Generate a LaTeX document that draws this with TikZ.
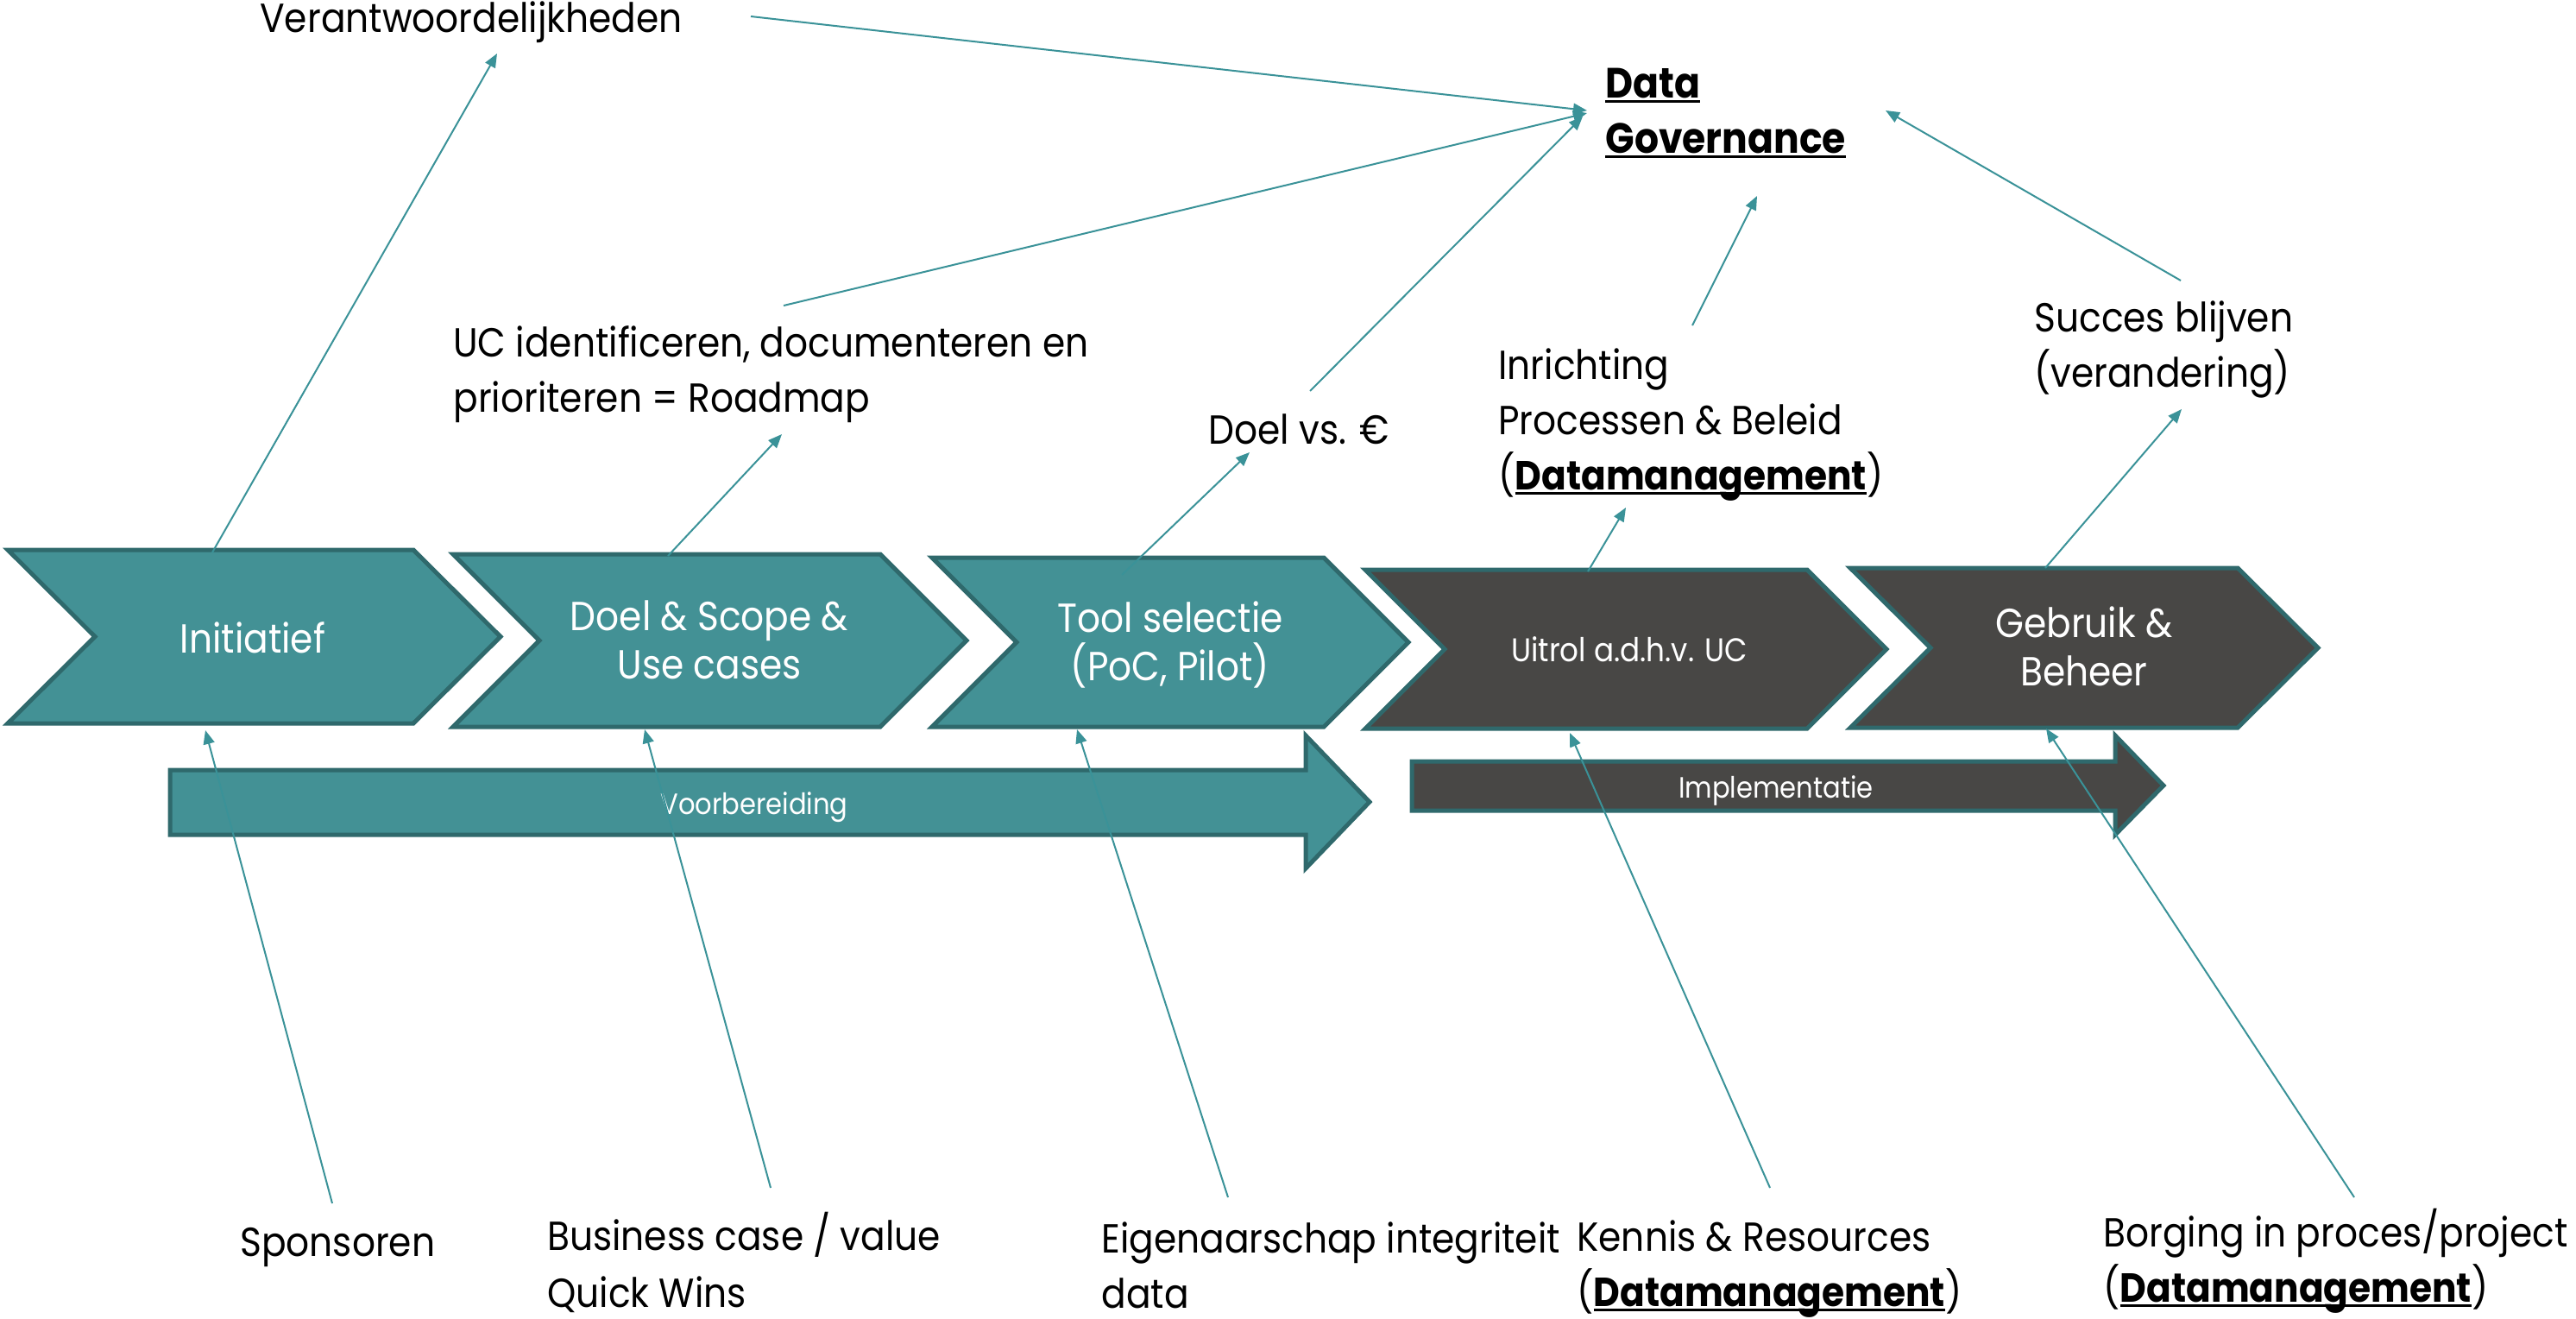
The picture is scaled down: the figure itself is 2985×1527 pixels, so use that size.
\documentclass[tikz,border=0pt]{standalone}
\usepackage{fontspec}
\setmainfont{Poppins}[FakeStretch=0.9]
\usetikzlibrary{arrows.meta}

\definecolor{tealfill}{RGB}{67,145,149}
\definecolor{tealline}{RGB}{47,105,108}
\definecolor{darkfill}{RGB}{72,71,69}
\definecolor{connline}{RGB}{58,146,152}

\newsavebox{\ulbox}
\newcommand{\ulin}[1]{\sbox{\ulbox}{#1}\rlap{\rule[-3.2pt]{\wd\ulbox}{1.5pt}}\usebox{\ulbox}}

\tikzset{
  chevron/.style={draw=tealline, line width=2.5pt, line join=miter},
  steptxt/.style={text=white, align=center, anchor=base, inner sep=0pt, font=\fontsize{23.5}{28}\selectfont},
  phasetxt/.style={text=white, anchor=base, inner sep=0pt, font=\fontsize{17}{20}\selectfont},
  lbl/.style={align=left, anchor=base west, inner sep=0pt, font=\fontsize{23.5}{32}\selectfont},
  conn/.style={draw=connline, line width=1pt, -{Triangle[length=8pt,width=6.5pt]}}
}

\begin{document}
\begin{tikzpicture}[x=0.5pt, y=-0.5pt]
  \useasboundingbox (0,0) rectangle (2985,1527);

  % fases onder de stappen
  \draw[chevron, fill=tealfill] (197,892) -- (1513,892) -- (1513,852) -- (1587,929)
    -- (1513,1006) -- (1513,967) -- (197,967) -- cycle;
  \draw[chevron, fill=darkfill] (1636,882) -- (2451,882) -- (2451,852) -- (2507,910)
    -- (2451,967) -- (2451,939) -- (1636,939) -- cycle;
  \node[phasetxt] (voorb) at (874,943) {Voorbereiding};
  \node[phasetxt] (implem) at (2058,924) {Implementatie};

  % stappen
  \foreach \xl/\xr/\yt/\yb/\dp/\kleur in {9/580/637/838/101/tealfill, 525/1120/642/842/100/tealfill,
      1080/1632/646/842/98/tealfill, 1582/2186/660/844/92/darkfill, 2144/2686/658/843/93/darkfill} {
    \draw[chevron, fill=\kleur] (\xl,\yt) -- ({\xr-\dp},\yt) -- (\xr,{(\yt+\yb)/2})
      -- ({\xr-\dp},\yb) -- (\xl,\yb) -- ({\xl+\dp},{(\yt+\yb)/2}) -- cycle;
  }
  \node[steptxt] (initiatief) at (293,756) {Initiatief};
  \node[steptxt] (doelscope) at (822,786) {Doel \& Scope \&\\Use cases};
  \node[steptxt] (toolsel) at (1356,788) {Tool selectie\\(PoC, Pilot)};
  \node[steptxt, font=\fontsize{19}{22}\selectfont] (uitrol) at (1888,766) {Uitrol a.d.h.v. UC};
  \node[steptxt] (gebruik) at (2415,794) {Gebruik \&\\Beheer};

  % teksten boven
  \node[lbl] (verant) at (301,37) {Verantwoordelijkheden};
  \node[lbl, font=\bfseries\fontsize{24.5}{32}\selectfont] (dg) at (1860,177) {\ulin{Data}\\\ulin{Governance}};
  \node[lbl] (ucroad) at (525,477) {UC identificeren, documenteren en\\prioriteren = Roadmap};
  \node[lbl] (doelgeld) at (1400,514) {Doel vs. €};
  \node[lbl] (inricht) at (1736,567) {Inrichting\\Processen \& Beleid\\(\ulin{\textbf{Datamanagement}})};
  \node[lbl] (succes) at (2357,448) {Succes blijven\\(verandering)};

  % teksten onder
  \node[lbl] (sponsor) at (278,1455) {Sponsoren};
  \node[lbl, font=\fontsize{23.5}{33}\selectfont] (business) at (634,1514) {Business case / value\\Quick Wins};
  \node[lbl] (eigenaar) at (1276,1515) {Eigenaarschap integriteit\\data};
  \node[lbl] (kennis) at (1827,1513) {Kennis \& Resources\\(\ulin{\textbf{Datamanagement}})};
  \node[lbl] (borging) at (2437,1508) {Borging in proces/project\\(\ulin{\textbf{Datamanagement}})};

  % eindpunten van de pijlen
  \foreach \naam/\x/\y in {ini-op/246/640, doel-op/774/644, tool-op/1300/666, uit-op/1840/662, geb-op/2370/658,
      verant-in/576/62, uc-in/906/503, geld-in/1448/524, inr-in/1884/588, suc-in/2528/474,
      verant-uit/870/19, uc-uit/908/354, geld-uit/1518/453, inr-uit/1961/377, suc-uit/2527/325,
      dg-a/1839/128, dg-b/1839/131, dg-c/1834/135, dg-d/2036/227, dg-e/2185/128,
      spons-uit/385/1394, bus-uit/893/1376, eig-uit/1423/1387, ken-uit/2051/1376, borg-uit/2728/1387,
      ini-neer/238/846, doel-neer/747/845, tool-neer/1248/845, uit-neer/1819/849, geb-neer/2371/844}
    \coordinate (\naam) at (\x,\y);

  % pijlen
  \foreach \van/\naar in {ini-op/verant-in, doel-op/uc-in, tool-op/geld-in, uit-op/inr-in, geb-op/suc-in,
      verant-uit/dg-a, uc-uit/dg-b, geld-uit/dg-c, inr-uit/dg-d, suc-uit/dg-e,
      spons-uit/ini-neer, bus-uit/doel-neer, eig-uit/tool-neer, ken-uit/uit-neer, borg-uit/geb-neer}
    \draw[conn] (\van) -- (\naar);
\end{tikzpicture}
\end{document}
